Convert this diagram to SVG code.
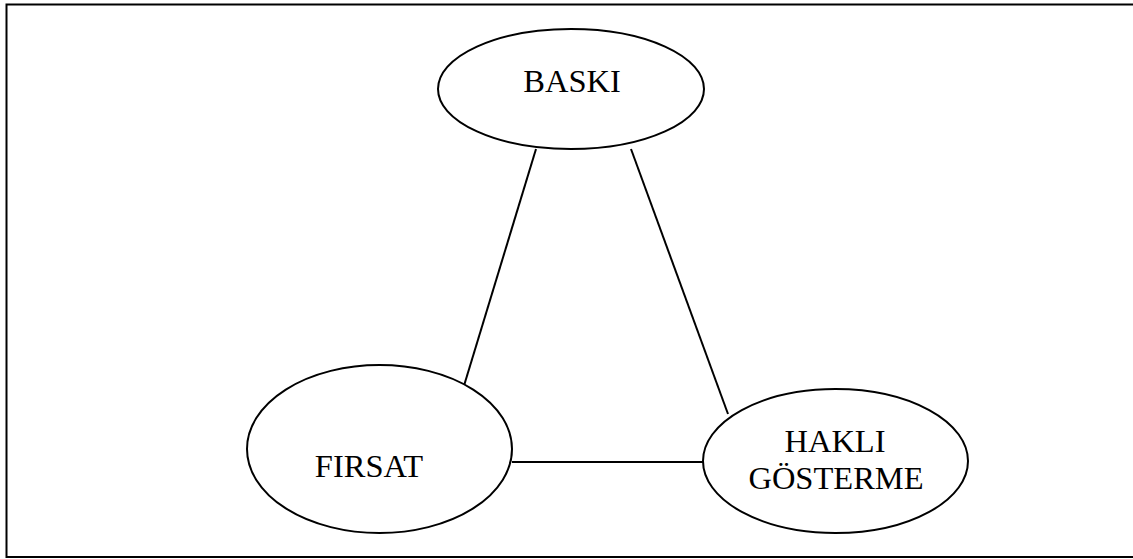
<svg xmlns="http://www.w3.org/2000/svg" width="1133" height="559" viewBox="0 0 1133 559">
<style>
.node{fill:#fff;stroke:#000;stroke-width:2}
.lbl{font-family:"Liberation Serif",serif;font-size:32.5px;fill:#000;text-anchor:middle}
.conn{stroke:#000;stroke-width:2;fill:none}
</style>
<rect x="0" y="0" width="1133" height="559" fill="#fff"/>
<rect x="6.5" y="4.5" width="1130" height="552.5" fill="none" stroke="#000" stroke-width="2"/>
<g id="connectors">
<line class="conn" x1="536" y1="149" x2="463" y2="389"/>
<line class="conn" x1="631" y1="149" x2="728" y2="414"/>
<line class="conn" x1="512" y1="462" x2="703" y2="462"/>
</g>
<g id="baski">
<ellipse class="node" cx="571" cy="89" rx="133" ry="60"/>
<text class="lbl" x="572" y="92">BASKI</text>
</g>
<g id="firsat">
<ellipse class="node" cx="379.5" cy="449" rx="132.5" ry="84"/>
<text class="lbl" x="369" y="477">FIRSAT</text>
</g>
<g id="hakli">
<ellipse class="node" cx="835.5" cy="461" rx="132.5" ry="72"/>
<text class="lbl" x="835" y="452">HAKLI</text>
<text class="lbl" x="836" y="489">GÖSTERME</text>
</g>
</svg>
